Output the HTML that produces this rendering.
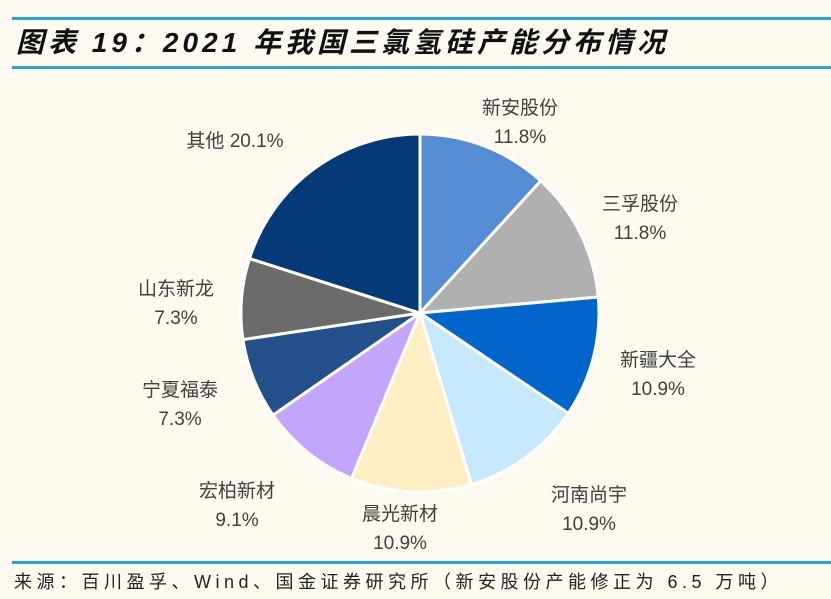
<!DOCTYPE html>
<html><head><meta charset="utf-8"><style>
body{margin:0;width:831px;height:599px;background:#fefaf0;overflow:hidden;font-family:"Liberation Sans","Noto Sans CJK SC",sans-serif;}
.ln{position:absolute;left:12px;right:0;height:3px;background:#29a0e0;}
#title{position:absolute;left:16px;top:21px;font-size:28px;letter-spacing:4px;font-weight:bold;font-style:italic;color:#111;white-space:nowrap;}
#src{position:absolute;left:14px;top:568px;font-size:18px;letter-spacing:4.5px;color:#222;white-space:nowrap;}
</style></head><body>
<div class="ln" style="top:17px"></div>
<div id="title">图表 19：2021 年我国三氯氢硅产能分布情况</div>
<div class="ln" style="top:66px"></div>
<svg width="831" height="599" style="position:absolute;left:0;top:0" id="svg"></svg>
<div class="ln" style="top:561px"></div>
<div id="src">来源：百川盈孚、Wind、国金证券研究所（新安股份产能修正为 6.5 万吨）</div>
<script>
const categories=["新安股份","三孚股份","新疆大全","河南尚宇","晨光新材","宏柏新材","宁夏福泰","山东新龙","其他"];
const values=[11.8,11.8,10.9,10.9,10.9,9.1,7.3,7.3,20.1];
const valueLabels=["11.8%","11.8%","10.9%","10.9%","10.9%","9.1%","7.3%","7.3%","20.1%"];
const colors=["#548dd4","#b0b0b0","#0066cc","#c5e8fc","#fdeec4","#c3a5fb","#234f8a","#6b6b6b","#053a78"];
const labelPos=[[520,121],[640,217],[658,373],[589,508],[400,527],[237,504],[180,403],[176,302],[235,140]];
const svg=document.getElementById('svg');
const NS="http://www.w3.org/2000/svg";
const cx=420,cy=313,r=179;
const total=values.reduce((a,b)=>a+b,0);
let acc=0;
function pt(a){return [cx+r*Math.sin(a),cy-r*Math.cos(a)];}
values.forEach((v,i)=>{
  const a0=acc/total*2*Math.PI;acc+=v;const a1=acc/total*2*Math.PI;
  const p0=pt(a0),p1=pt(a1);
  const p=document.createElementNS(NS,'path');
  p.setAttribute('d',`M${cx},${cy}L${p0[0]},${p0[1]}A${r},${r} 0 ${a1-a0>Math.PI?1:0} 1 ${p1[0]},${p1[1]}Z`);
  p.setAttribute('fill',colors[i]);p.setAttribute('stroke','#fff');p.setAttribute('stroke-width','3');
  
  
  svg.appendChild(p);
});
categories.forEach((c,i)=>{
  const [x,y]=labelPos[i];
  const t=document.createElementNS(NS,'text');
  t.setAttribute('text-anchor','middle');t.setAttribute('font-size','19');t.setAttribute('fill','#404040');
  t.setAttribute('font-family','"Liberation Sans","Noto Sans CJK SC",sans-serif');
  
  
  if(i===8){t.setAttribute('x',x);t.setAttribute('y',y+7);t.textContent=c+' '+valueLabels[i];}
  else{
    const s1=document.createElementNS(NS,'tspan');s1.setAttribute('x',x);s1.setAttribute('y',y-7);s1.textContent=c;
    const s2=document.createElementNS(NS,'tspan');s2.setAttribute('x',x);s2.setAttribute('y',y+22);s2.textContent=valueLabels[i];
    t.appendChild(s1);t.appendChild(s2);
  }
  svg.appendChild(t);
});
</script>
</body></html>
